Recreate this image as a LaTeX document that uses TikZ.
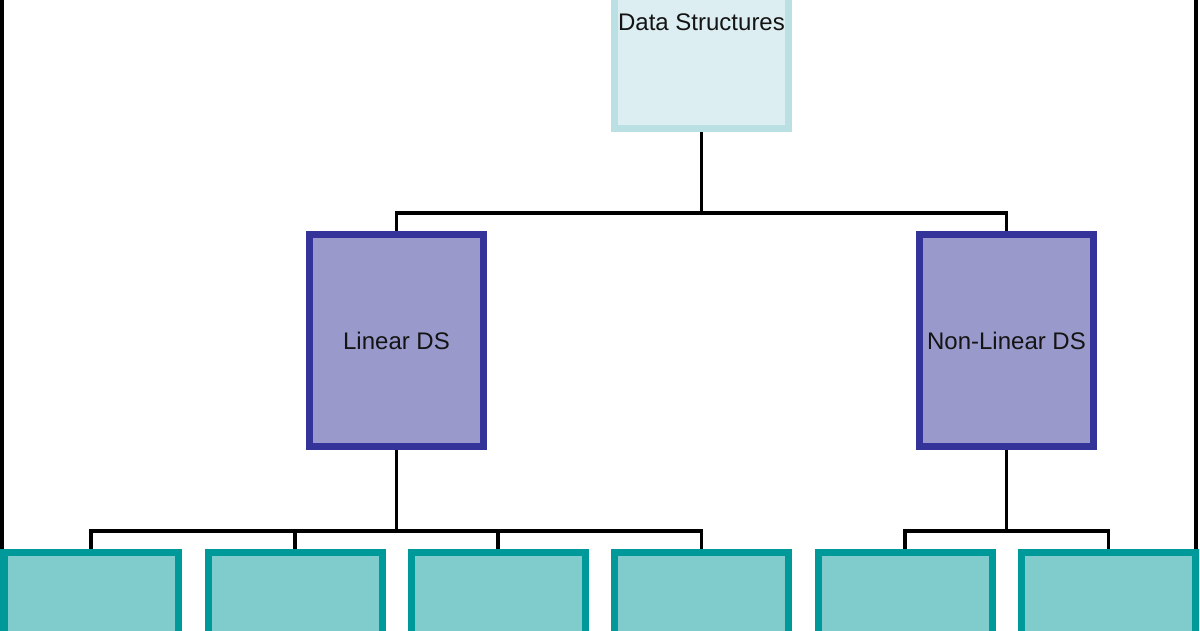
\documentclass[tikz,border=0pt]{standalone}
\usepackage{fontspec}
\setmainfont{Liberation Sans}
\definecolor{topfill}{HTML}{DDEEF2}
\definecolor{topdraw}{HTML}{BBE0E3}
\definecolor{midfill}{HTML}{9999CC}
\definecolor{middraw}{HTML}{333399}
\definecolor{lowfill}{HTML}{80CCCC}
\definecolor{lowdraw}{HTML}{009999}
\tikzset{
  box/.style={rectangle, line width=7pt, minimum width=174pt, minimum height=212pt,
    inner sep=0pt, font=\fontsize{24}{28}\selectfont, text=black!92},
  topbox/.style={box, draw=topdraw, fill=topfill},
  midbox/.style={box, draw=middraw, fill=midfill},
  lowbox/.style={box, draw=lowdraw, fill=lowfill},
  conn/.style={line width=3.5pt, black},
  frame/.style={line width=4pt, black}
}
\begin{document}
\begin{tikzpicture}[x=1pt,y=-1pt]
\useasboundingbox (0,0) rectangle (1200,630);
\clip (0,0) rectangle (1200,630);
\fill[white] (0,0) rectangle (1200,630);
\coordinate (fl1) at (2,0);
\coordinate (fl2) at (2,630);
\coordinate (fr1) at (1195.5,0);
\coordinate (fr2) at (1195.5,630);
\draw[frame] (fl1) -- (fl2);
\draw[frame] (fr1) -- (fr2);
\node[topbox] (ds) at (701.5,22.5) {Data Structures};
\node[midbox] (lin) at (396.5,340.5) {Linear DS};
\node[midbox] (nlin) at (1006.5,340.5) {Non-Linear DS};
\node[lowbox] (b1) at (91,658.5) {};
\node[lowbox] (b2) at (295,658.5) {};
\node[lowbox] (b3) at (498,658.5) {};
\node[lowbox] (b4) at (701.5,658.5) {};
\node[lowbox] (b5) at (905,658.5) {};
\node[lowbox] (b6) at (1108.5,658.5) {};
\coordinate (j0) at (701.5,213);
\coordinate (j1) at (396.5,531);
\coordinate (j2) at (1006.5,531);
\draw[conn] (ds.south) -- (j0);
\draw[conn] (j0) -| (lin.north);
\draw[conn] (j0) -| (nlin.north);
\draw[conn] (lin.south) -- (j1);
\draw[conn] (j1) -| (b1.north);
\draw[conn] (j1) -| (b2.north);
\draw[conn] (j1) -| (b3.north);
\draw[conn] (j1) -| (b4.north);
\draw[conn] (nlin.south) -- (j2);
\draw[conn] (j2) -| (b5.north);
\draw[conn] (j2) -| (b6.north);
\end{tikzpicture}
\end{document}
